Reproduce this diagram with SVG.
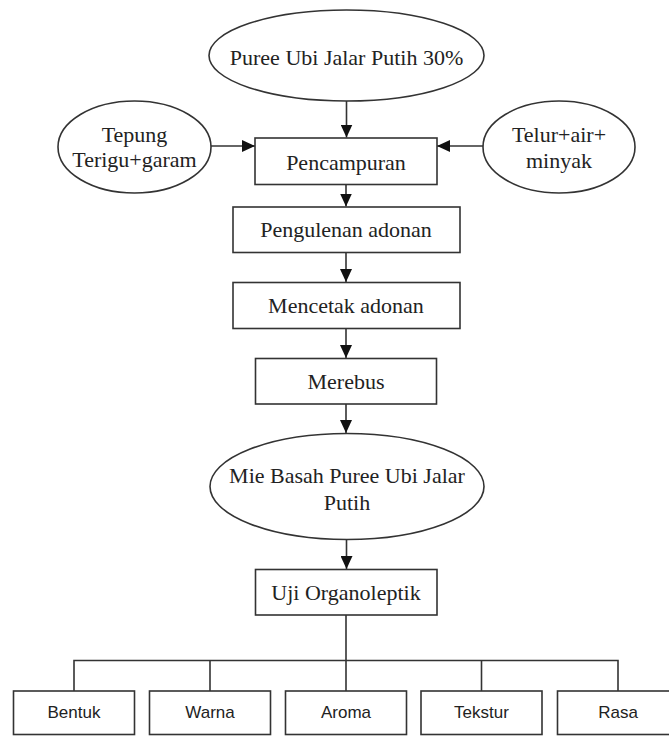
<svg xmlns="http://www.w3.org/2000/svg" width="669" height="736" viewBox="0 0 669 736">
<style>
.shape{fill:#fff;stroke:#333;stroke-width:1.6}
.t{font-family:"Liberation Serif","Times New Roman",serif;font-size:22px;fill:#222;text-anchor:middle}
.s{font-family:"Liberation Sans",Arial,sans-serif;font-size:17px;fill:#222;text-anchor:middle}
.c{fill:none;stroke:#333;stroke-width:1.6}
</style>
<defs>
<marker id="arr" markerUnits="userSpaceOnUse" markerWidth="14" markerHeight="12" refX="13" refY="6" orient="auto">
<path d="M0,0 L13,6 L0,12 Z" fill="#111"/>
</marker>
</defs>
<rect width="669" height="736" fill="#fff"/>
<g id="connectors">
<line class="c" x1="346.5" y1="101" x2="346.5" y2="137.5" marker-end="url(#arr)"/>
<line class="c" x1="211" y1="146" x2="255" y2="146" marker-end="url(#arr)"/>
<line class="c" x1="483" y1="146" x2="437" y2="146" marker-end="url(#arr)"/>
<line class="c" x1="346" y1="184.5" x2="346" y2="206.5" marker-end="url(#arr)"/>
<line class="c" x1="346" y1="252.5" x2="346" y2="282" marker-end="url(#arr)"/>
<line class="c" x1="346" y1="328.5" x2="346" y2="358" marker-end="url(#arr)"/>
<line class="c" x1="346" y1="404" x2="346" y2="433" marker-end="url(#arr)"/>
<line class="c" x1="346.5" y1="539.5" x2="346.5" y2="569" marker-end="url(#arr)"/>
<line class="c" x1="346" y1="615" x2="346" y2="691"/>
<polyline class="c" points="74,691 74,660.5 618,660.5 618,691"/>
<line class="c" x1="210" y1="660.5" x2="210" y2="691"/>
<line class="c" x1="481.5" y1="660.5" x2="481.5" y2="691"/>
</g>
<g id="puree">
<ellipse class="shape" cx="346.5" cy="55.5" rx="137.5" ry="45.5"/>
<text class="t" x="346.5" y="65">Puree Ubi Jalar Putih 30%</text>
</g>
<g id="tepung">
<ellipse class="shape" cx="134.5" cy="147" rx="76.5" ry="46"/>
<text class="t" x="134.5" y="142">Tepung</text>
<text class="t" x="134.5" y="167">Terigu+garam</text>
</g>
<g id="telur">
<ellipse class="shape" cx="559" cy="147" rx="76" ry="46"/>
<text class="t" x="559" y="142">Telur+air+</text>
<text class="t" x="559" y="168">minyak</text>
</g>
<g id="pencampuran">
<rect class="shape" x="255" y="138" width="182" height="46.5"/>
<text class="t" x="346" y="170">Pencampuran</text>
</g>
<g id="pengulenan">
<rect class="shape" x="233" y="207" width="227" height="45.5"/>
<text class="t" x="346" y="237">Pengulenan adonan</text>
</g>
<g id="mencetak">
<rect class="shape" x="233" y="282.5" width="227" height="46"/>
<text class="t" x="346" y="313">Mencetak adonan</text>
</g>
<g id="merebus">
<rect class="shape" x="255.5" y="358.5" width="181" height="45.5"/>
<text class="t" x="346" y="389">Merebus</text>
</g>
<g id="miebasah">
<ellipse class="shape" cx="347" cy="486.5" rx="137" ry="53"/>
<text class="t" x="347" y="483">Mie Basah Puree Ubi Jalar</text>
<text class="t" x="347" y="509.5">Putih</text>
</g>
<g id="uji">
<rect class="shape" x="255.5" y="569.5" width="181.5" height="45.5"/>
<text class="t" x="346" y="600">Uji Organoleptik</text>
</g>
<g id="bentuk">
<rect class="shape" x="13.5" y="691" width="121" height="43.5"/>
<text class="s" x="74" y="718">Bentuk</text>
</g>
<g id="warna">
<rect class="shape" x="149.5" y="691" width="121" height="43.5"/>
<text class="s" x="210" y="718">Warna</text>
</g>
<g id="aroma">
<rect class="shape" x="285.5" y="691" width="121" height="43.5"/>
<text class="s" x="346" y="718">Aroma</text>
</g>
<g id="tekstur">
<rect class="shape" x="421" y="691" width="121" height="43.5"/>
<text class="s" x="481.5" y="718">Tekstur</text>
</g>
<g id="rasa">
<rect class="shape" x="557.5" y="691" width="121" height="43.5"/>
<text class="s" x="618" y="718">Rasa</text>
</g>
</svg>
